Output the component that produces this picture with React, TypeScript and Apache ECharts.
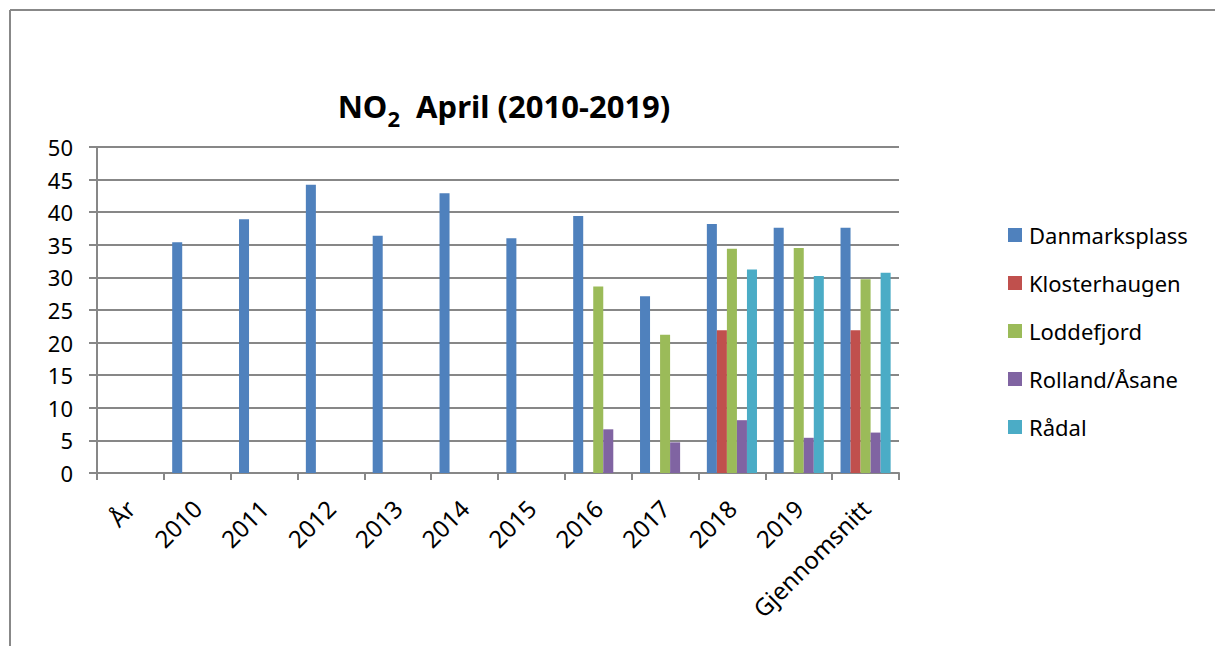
import React, { useEffect, useRef } from "react";
import * as echarts from "echarts";

const categories = ["År", "2010", "2011", "2012", "2013", "2014", "2015", "2016", "2017", "2018", "2019", "Gjennomsnitt"];
const seriesNames = ["Danmarksplass", "Klosterhaugen", "Loddefjord", "Rolland/Åsane", "Rådal"];
const danmarksplass = [null, 35.4, 38.9, 44.2, 36.4, 42.9, 36.0, 39.4, 27.1, 38.2, 37.6, 37.6];
const klosterhaugen = [null, null, null, null, null, null, null, null, null, 21.9, null, 21.9];
const loddefjord = [null, null, null, null, null, null, null, 28.6, 21.2, 34.4, 34.5, 29.7];
const rollandAasane = [null, null, null, null, null, null, null, 6.7, 4.7, 8.1, 5.4, 6.2];
const raadal = [null, null, null, null, null, null, null, null, null, 31.2, 30.2, 30.7];
const yTicks = { min: 0, max: 50, interval: 5 };
const colors = ["#4F81BD", "#C0504D", "#9BBB59", "#8064A2", "#4BACC6"];

export default function App() {
  const ref = useRef<HTMLDivElement>(null);
  useEffect(() => {
    document.body.style.margin = "0";
    const chart = echarts.init(ref.current!, undefined, { renderer: "svg" });
    const font = "'Noto Sans', 'Open Sans', sans-serif";
    const allData = [danmarksplass, klosterhaugen, loddefjord, rollandAasane, raadal];
    chart.setOption({
      animation: false,
      color: colors,
      textStyle: { fontFamily: font },
      title: {
        text: "{a|NO}{s|2}{a|  April (2010-2019)}",
        left: 499,
        textAlign: "center",
        top: 78,
        textStyle: {
          rich: {
            a: { fontFamily: font, fontSize: 31, fontWeight: "bold", color: "#000" },
            s: { fontFamily: font, fontSize: 22, fontWeight: "bold", color: "#000", padding: [24, 0, 0, 0] },
          },
        },
      },
      legend: {
        orient: "vertical",
        left: 1003,
        top: 219,
        itemWidth: 14,
        itemHeight: 14,
        itemGap: 26,
        icon: "rect",
        data: seriesNames,
        textStyle: { fontFamily: font, fontSize: 22, color: "#000", padding: [0, 0, 0, 2] },
      },
      grid: { left: 97, right: 316, top: 147, bottom: 173, containLabel: false },
      xAxis: {
        type: "category",
        data: categories,
        boundaryGap: true,
        axisLine: { show: true, lineStyle: { color: "#878787", width: 2 } },
        axisTick: { show: true, length: 7, interval: 0, lineStyle: { color: "#878787", width: 2 } },
        axisLabel: { interval: 0, rotate: 45, fontFamily: font, fontSize: 24, color: "#000", margin: 31 },
      },
      yAxis: {
        type: "value",
        min: yTicks.min,
        max: yTicks.max,
        interval: yTicks.interval,
        axisLine: { show: true, lineStyle: { color: "#878787", width: 2 } },
        axisTick: { show: true, length: 8, lineStyle: { color: "#878787", width: 2 } },
        splitLine: { show: true, lineStyle: { color: "#878787", width: 2 } },
        axisLabel: { fontFamily: font, fontSize: 22, color: "#000", margin: 24 },
      },
      graphic: [
        { type: "line", shape: { x1: 10, y1: 10, x2: 1215, y2: 10 }, style: { stroke: "#888", lineWidth: 2 } },
        { type: "line", shape: { x1: 10, y1: 10, x2: 10, y2: 646 }, style: { stroke: "#888", lineWidth: 2 } },
      ],
      series: seriesNames.map((name, i) => ({
        name,
        type: "bar",
        data: allData[i],
        barGap: "0%",
        barCategoryGap: "25%",
        itemStyle: { color: colors[i] },
      })),
    });
    return () => chart.dispose();
  }, []);
  return <div ref={ref} style={{ width: 1215, height: 646 }} />;
}
